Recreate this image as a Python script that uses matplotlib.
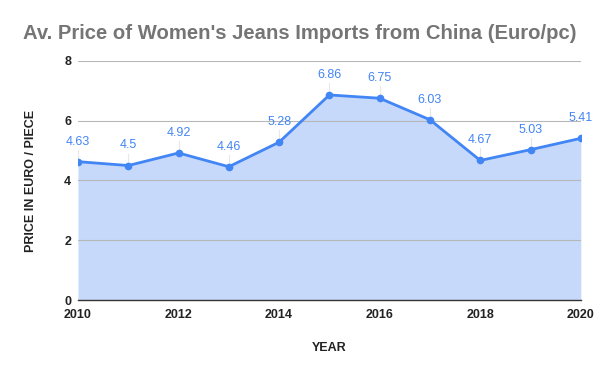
import matplotlib
matplotlib.use("Agg")
import matplotlib.pyplot as plt

years = [2010, 2011, 2012, 2013, 2014, 2015, 2016, 2017, 2018, 2019, 2020]
prices = [4.63, 4.5, 4.92, 4.46, 5.28, 6.86, 6.75, 6.03, 4.67, 5.03, 5.41]
xticks = [2010, 2012, 2014, 2016, 2018, 2020]
yticks = [0, 2, 4, 6, 8]

plt.rcParams['font.family'] = ['Liberation Sans', 'DejaVu Sans']

fig = plt.figure(figsize=(6, 3.71), dpi=100)
ax = fig.add_axes([0.13, 0.191, 0.838, 0.645])

blue = '#4285F4'
ax.fill_between(years, prices, 0, color='#C6D9FA', linewidth=0, zorder=1)
ax.plot(years, prices, color=blue, linewidth=2, marker='o', markersize=4.5, zorder=3)

for x, y in zip(years, prices):
    ax.annotate(str(y), (x, y), xytext=(0, 14.5), textcoords='offset points',
                ha='center', va='center', color=blue, fontsize=9, zorder=4,
                annotation_clip=False)
    ax.plot([x, x], [y, y + 0.4], color='#e8e8e8', linewidth=0.8, zorder=2)

ax.set_xlim(2010, 2020)
ax.set_ylim(0, 8)
ax.set_xticks(xticks)
ax.set_yticks(yticks)
ax.set_xticklabels([str(t) for t in xticks], fontweight='bold', fontsize=9, color='#222222')
ax.set_yticklabels([str(t) for t in yticks], fontweight='bold', fontsize=9, color='#222222')
ax.tick_params(axis='x', length=0, pad=6.5)
ax.tick_params(axis='y', length=0, pad=5)
ax.grid(axis='y', color='#b7b7b7', linewidth=0.8, zorder=0)
ax.set_axisbelow(False)
for s in ['top', 'right', 'left']:
    ax.spines[s].set_visible(False)
ax.spines['bottom'].set_color('#333333')
ax.spines['bottom'].set_linewidth(1)

ax.set_xlabel('YEAR', fontweight='bold', fontsize=9, color='#222222', labelpad=15)
ax.set_ylabel('PRICE IN EURO / PIECE', fontweight='bold', fontsize=9, color='#222222', labelpad=19.5)

fig.text(0.5, 0.91, "Av. Price of Women's Jeans Imports from China (Euro/pc)",
         ha='center', va='center', fontsize=14.6, fontweight='bold', color='#757575')

fig.savefig('out.png', dpi=100, facecolor='white')
